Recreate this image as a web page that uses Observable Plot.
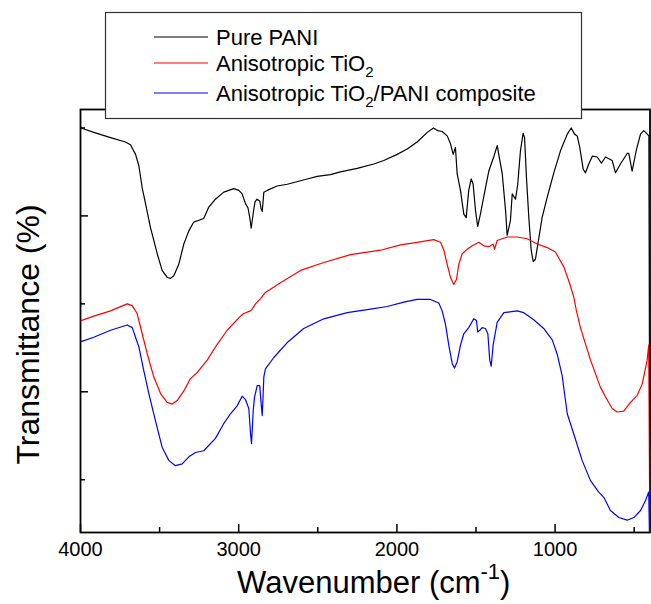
<!DOCTYPE html>
<html>
<head>
<meta charset="utf-8">
<script src="https://cdn.jsdelivr.net/npm/d3@7"></script>
<script src="https://cdn.jsdelivr.net/npm/@observablehq/plot@0.6"></script>
<style>
  html, body { margin: 0; padding: 0; background: #fff; }
  #chart { position: relative; width: 651px; height: 604px; }
  svg { font-family: "Liberation Sans", Arial, sans-serif; }
</style>
</head>
<body>
<div id="chart"></div>
<script>
// ---- Data ----
const seriesNames = ["Pure PANI", "Anisotropic TiO2", "Anisotropic TiO2/PANI composite"];
const seriesColors = ["#000000", "#ff0000", "#0000ff"];

const pani_wn = [3996,3916,3810,3716,3684,3652,3631,3610,3589,3558,3515,3484,3452,3431,3410,3379,3347,3315,3284,3252,3221,3189,3147,3094,3031,2999,2978,2957,2941,2930,2921,2908,2897,2884,2867,2858,2851,2841,2820,2757,2693,2567,2504,2420,2357,2251,2146,2083,1998,1935,1872,1808,1769,1743,1714,1682,1661,1644,1630,1619,1598,1577,1562,1546,1530,1518,1503,1489,1472,1440,1419,1388,1366,1356,1334,1313,1303,1282,1271,1250,1236,1219,1202,1193,1181,1166,1151,1138,1124,1109,1082,1050,1008,966,923,898,877,860,844,822,808,787,764,734,707,681,639,618,587,544,534,513,485,460,439,428,407,400];
const pani_t  = [50.0,49.5,48.9,48.4,48.1,47.0,45.7,43.2,41.4,38.7,35.7,33.8,33.0,32.9,33.2,34.5,36.8,38.3,39.3,39.5,39.7,41.0,41.9,42.7,43.1,42.9,42.5,41.4,40.9,39.8,38.6,40.3,41.6,41.9,41.7,40.8,40.5,42.7,42.9,43.4,43.6,44.2,44.5,44.7,45.0,45.4,45.9,46.3,47.0,47.6,48.4,49.5,50.0,49.7,49.6,49.1,48.2,47.0,47.8,44.8,42.9,40.2,39.8,42.9,44.2,43.6,40.6,38.8,40.2,43.2,45.1,46.7,48.0,47.0,44.8,40.6,37.8,39.5,42.5,41.9,43.6,47.4,49.4,48.9,44.4,39.8,36.1,34.8,35.1,36.8,39.8,42.1,44.9,47.4,49.3,50.0,49.3,49.1,47.8,45.3,44.9,45.9,46.8,46.7,46.0,46.7,46.3,44.9,45.9,47.1,47.1,45.1,47.6,49.3,49.7,49.5,49.1,0];

const tio2_wn = [3996,3916,3810,3705,3673,3642,3610,3578,3537,3494,3452,3420,3389,3347,3305,3262,3199,3136,3073,2989,2968,2925,2915,2894,2862,2831,2736,2609,2462,2293,2104,1977,1872,1767,1724,1703,1682,1661,1640,1623,1609,1587,1556,1524,1482,1451,1419,1391,1383,1366,1303,1240,1176,1113,1050,998,945,913,882,865,840,776,713,681,639,608,566,523,481,449,418,408,400];
const tio2_t  = [28.1,28.6,29.2,30.0,29.8,28.9,26.6,24.3,21.7,19.8,18.8,18.6,19.0,20.1,21.5,22.2,23.6,25.4,27.0,28.6,28.9,29.2,29.4,30.0,30.6,31.3,32.4,33.8,34.7,35.6,36.1,36.7,37.0,37.3,37.0,36.1,34.5,33.0,32.2,32.8,34.5,35.7,36.2,36.6,37.0,36.6,36.5,36.8,36.2,37.2,37.6,37.6,37.4,36.8,36.4,35.9,34.2,32.6,30.8,29.2,27.3,23.6,20.5,19.4,18.1,17.7,17.8,18.8,19.6,20.9,23.6,25.3,0];

const comp_wn = [3996,3916,3810,3705,3673,3631,3600,3568,3526,3484,3442,3400,3357,3315,3273,3221,3147,3094,3052,3010,2978,2957,2936,2925,2919,2908,2900,2883,2867,2858,2851,2841,2831,2778,2693,2589,2462,2314,2167,2061,1956,1872,1788,1735,1714,1693,1672,1650,1636,1619,1598,1577,1546,1514,1497,1489,1476,1461,1440,1425,1413,1404,1391,1366,1324,1240,1198,1135,1072,1018,987,955,923,882,829,776,724,692,650,597,544,502,460,429,408,400];
const comp_t  = [25.7,26.2,27.0,27.6,27.3,25.1,22.4,19.8,16.7,13.7,12.2,11.6,11.8,12.6,13.1,13.3,14.7,16.4,17.5,18.4,19.5,19.1,18.1,15.2,14.1,17.9,19.4,20.7,20.7,18.6,17.3,21.7,22.6,23.9,25.6,27.2,28.3,29.0,29.4,29.7,30.2,30.5,30.5,30.1,29.2,27.7,25.3,23.2,22.7,23.4,25.3,26.6,27.3,28.3,28.1,26.8,27.0,27.3,27.2,26.6,23.6,22.9,25.4,27.9,29.0,29.2,29.0,28.2,27.2,25.9,24.3,21.8,17.5,15.2,12.2,9.9,8.6,8.0,6.5,5.7,5.4,5.7,6.5,7.6,8.6,0];

const xMajorTicks = [4000, 3000, 2000, 1000];
const xMinorTicks = [3500, 2500, 1500, 500];
const yMajorTicks = [20, 40];
const yMinorTicks = [10, 30, 50];
const xDomain = [4000, 400];
const yDomain = [4, 52.1];

// ---- Build table ----
const rows = [];
[[pani_wn, pani_t], [tio2_wn, tio2_t], [comp_wn, comp_t]].forEach(([wn, t], i) => {
  wn.forEach((w, j) => rows.push({series: seriesNames[i], wn: w, t: t[j]}));
});

const font = "Liberation Sans, Arial, sans-serif";
const chart = Plot.plot({
  width: 651,
  height: 604,
  marginLeft: 80,
  marginRight: 1.5,
  marginTop: 109,
  marginBottom: 72,
  style: {fontFamily: font, color: "#000", background: "#fff"},
  x: {domain: xDomain},
  y: {domain: yDomain},
  color: {domain: seriesNames, range: seriesColors},
  marks: [
    Plot.frame({stroke: "#000", strokeWidth: 1.8}),
    Plot.line(rows, {x: "wn", y: "t", z: "series", stroke: "series", strokeWidth: 1.2, clip: true}),
    Plot.axisX({ticks: xMajorTicks, tickSize: 8, dy: -8, tickFormat: () => "", label: null, strokeWidth: 1.5}),
    Plot.axisX({ticks: xMinorTicks, tickSize: 5, dy: -5, tickFormat: () => "", label: null, strokeWidth: 1.5}),
    Plot.axisX({ticks: xMajorTicks, tickSize: 0, tickPadding: 9, tickFormat: d3.format("d"), fontSize: 20, label: null}),
    Plot.axisY({ticks: yMajorTicks, tickSize: 8, dx: 8, tickFormat: () => "", label: null, strokeWidth: 1.5}),
    Plot.axisY({ticks: yMinorTicks, tickSize: 5, dx: 5, tickFormat: () => "", label: null, strokeWidth: 1.5})
  ]
});
document.getElementById("chart").appendChild(chart);

// ---- Axis titles and legend ----
const svg = d3.select(chart);
const xr = chart.scale("x").range, yr = chart.scale("y").range;
const xc = (xr[0] + xr[1]) / 2, yc = (yr[0] + yr[1]) / 2;

const xt = svg.append("text").attr("x", xc + 9).attr("y", 593).attr("text-anchor", "middle")
  .attr("font-size", 31).attr("font-family", font).attr("fill", "#000");
xt.append("tspan").text("Wavenumber (cm");
xt.append("tspan").attr("font-size", 22).attr("dy", -14).text("-1");
xt.append("tspan").attr("dy", 14).text(")");

svg.append("text").attr("transform", `translate(39,${yc + 14}) rotate(-90)`).attr("text-anchor", "middle")
  .attr("font-size", 32).attr("font-family", font).attr("fill", "#000").text("Transmittance (%)");

const lg = svg.append("g");
lg.append("rect").attr("x", 105.5).attr("y", 12.5).attr("width", 476).attr("height", 106)
  .attr("fill", "#fff").attr("stroke", "#333").attr("stroke-width", 1.2);
const lgY = [37, 63, 93];
seriesNames.forEach((name, i) => {
  lg.append("line").attr("x1", 154).attr("x2", 208).attr("y1", lgY[i]).attr("y2", lgY[i])
    .attr("stroke", seriesColors[i]).attr("stroke-width", 1.2);
  const t = lg.append("text").attr("x", 216).attr("y", lgY[i] + 8).attr("font-size", 22)
    .attr("text-anchor", "start").attr("font-family", font).attr("fill", "#000");
  const parts = name.split("TiO2");
  if (parts.length === 1) { t.text(name); }
  else {
    t.append("tspan").text(parts[0] + "TiO");
    t.append("tspan").attr("font-size", 15).attr("dy", 6).text("2");
    t.append("tspan").attr("dy", -6).text(parts[1]);
  }
});
</script>
</body>
</html>
